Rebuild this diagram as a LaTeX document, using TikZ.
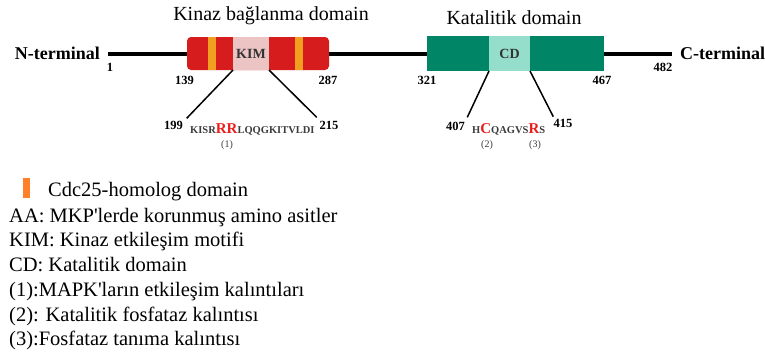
\documentclass[tikz,border=0pt]{standalone}
\usepackage{fontspec}
\setmainfont{Liberation Serif}
\newfontfamily\legfont{Liberation Serif}
\definecolor{dred}{RGB}{214,28,28}
\definecolor{dorange}{RGB}{240,160,30}
\definecolor{kimpink}{RGB}{236,196,196}
\definecolor{dgreen}{RGB}{0,134,102}
\definecolor{cdlight}{RGB}{150,222,204}
\definecolor{legorange}{RGB}{255,128,40}
\definecolor{seqgray}{RGB}{60,60,60}
\definecolor{resred}{RGB}{235,30,30}
\begin{document}
\begin{tikzpicture}[x=1pt,y=-1pt,
  box/.style={draw=none,inner sep=0pt,outer sep=0pt,anchor=center},
  num/.style={font=\fontsize{12.5}{14}\selectfont\bfseries,inner sep=0pt,anchor=center},
  term/.style={font=\fontsize{18}{20}\selectfont\bfseries,inner sep=0pt},
  title/.style={font=\fontsize{20}{22}\selectfont,inner sep=0pt,anchor=base},
  seq/.style={text=seqgray,inner sep=0pt,anchor=base west,font=\fontsize{10.5}{12}\selectfont\bfseries},
  refn/.style={font=\fontsize{10}{11}\selectfont,text=seqgray,inner sep=0pt,anchor=center},
  leg/.style={font=\legfont\fontsize{20.5}{22}\selectfont,inner sep=0pt,anchor=base west},
  conn/.style={line width=1.5pt,black},
  mainline/.style={line width=4pt,black}]
\useasboundingbox (0,0) rectangle (765,356);
\newcommand{\rr}[1]{{\fontsize{15}{15}\selectfont\bfseries\textcolor{resred}{#1}}}

% backbone
\coordinate (nstart) at (108,53.5);
\coordinate (cend) at (672,53.5);

% kinase binding domain
\node[box,fill=dred,rounded corners=4pt,minimum width=142pt,minimum height=33pt] (red) at (258,53.5) {};
\node[box,fill=dorange,minimum width=8pt,minimum height=33pt] (or1) at (212,53.5) {};
\node[box,fill=dorange,minimum width=8pt,minimum height=33pt] (or2) at (299,53.5) {};
\node[box,fill=kimpink,minimum width=36pt,minimum height=33pt,font=\fontsize{14}{16}\selectfont\bfseries,text=black!80] (kim) at (251,53.5) {KIM};

% catalytic domain
\node[box,fill=dgreen,minimum width=177pt,minimum height=35pt] (green) at (515.5,53.5) {};
\node[box,fill=cdlight,minimum width=41pt,minimum height=35pt,font=\fontsize{14}{16}\selectfont\bfseries,text=black!80] (cd) at (509.5,53.5) {CD};

\draw[mainline] (nstart) -- (red.west);
\draw[mainline] (red.east) -- (green.west);
\draw[mainline] (green.east) -- (cend);

% titles
\node[title] (t1) at (271,20) {Kinaz bağlanma domain};
\node[title] (t2) at (514,24) {Katalitik domain};
\node[term,anchor=base east] (nterm) at (100,59) {N-terminal};
\node[term,anchor=base west] (cterm) at (680,59) {C-terminal};

% numbers
\node[num] (n1) at (110,67) {1};
\node[num] (n482) at (663,67) {482};
\node[num] (n139) at (184.5,80) {139};
\node[num] (n287) at (328,80) {287};
\node[num] (n321) at (427,80) {321};
\node[num] (n467) at (602,80) {467};
\node[num] (n199) at (173.5,125) {199};
\node[num] (n215) at (329,125) {215};
\node[num] (n407) at (455.5,126) {407};
\node[num] (n415) at (563,123) {415};

% connectors to residue ranges
\coordinate (e199) at (186.7,118.3);
\coordinate (e215) at (316.7,117.3);
\coordinate (e407) at (467.3,117.3);
\coordinate (e415) at (553.3,116.7);
\draw[conn] (kim.south west) -- (e199);
\draw[conn] (kim.south east) -- (e215);
\draw[conn] (cd.south west) -- (e407);
\draw[conn] (cd.south east) -- (e415);

% sequences
\node[seq] (s1) at (190,133) {KISR\rr{RR}LQQGKITVLDI};
\node[seq] (s2) at (472,133) {H\rr{C}QAGVS\rr{R}S};
\node[refn] (r1) at (227,145) {(1)};
\node[refn] (r2) at (487,145) {(2)};
\node[refn] (r3) at (535,145) {(3)};

% legend
\node[box,fill=legorange,minimum width=7pt,minimum height=20pt] (lbar) at (26.5,188) {};
\node[leg] (l0) at (48,196.7) {Cdc25-homolog domain};
\node[leg] (l1) at (9,222) {AA: MKP'lerde korunmuş amino asitler};
\node[leg] (l2) at (9,246.7) {KIM: Kinaz etkileşim motifi};
\node[leg] (l3) at (9,271.5) {CD: Katalitik domain};
\node[leg] (l4) at (9,296.3) {(1):MAPK'ların etkileşim kalıntıları};
\node[leg] (l5) at (9,321) {(2): Katalitik fosfataz kalıntısı};
\node[leg] (l6) at (9,345) {(3):Fosfataz tanıma kalıntısı};
\end{tikzpicture}
\end{document}
